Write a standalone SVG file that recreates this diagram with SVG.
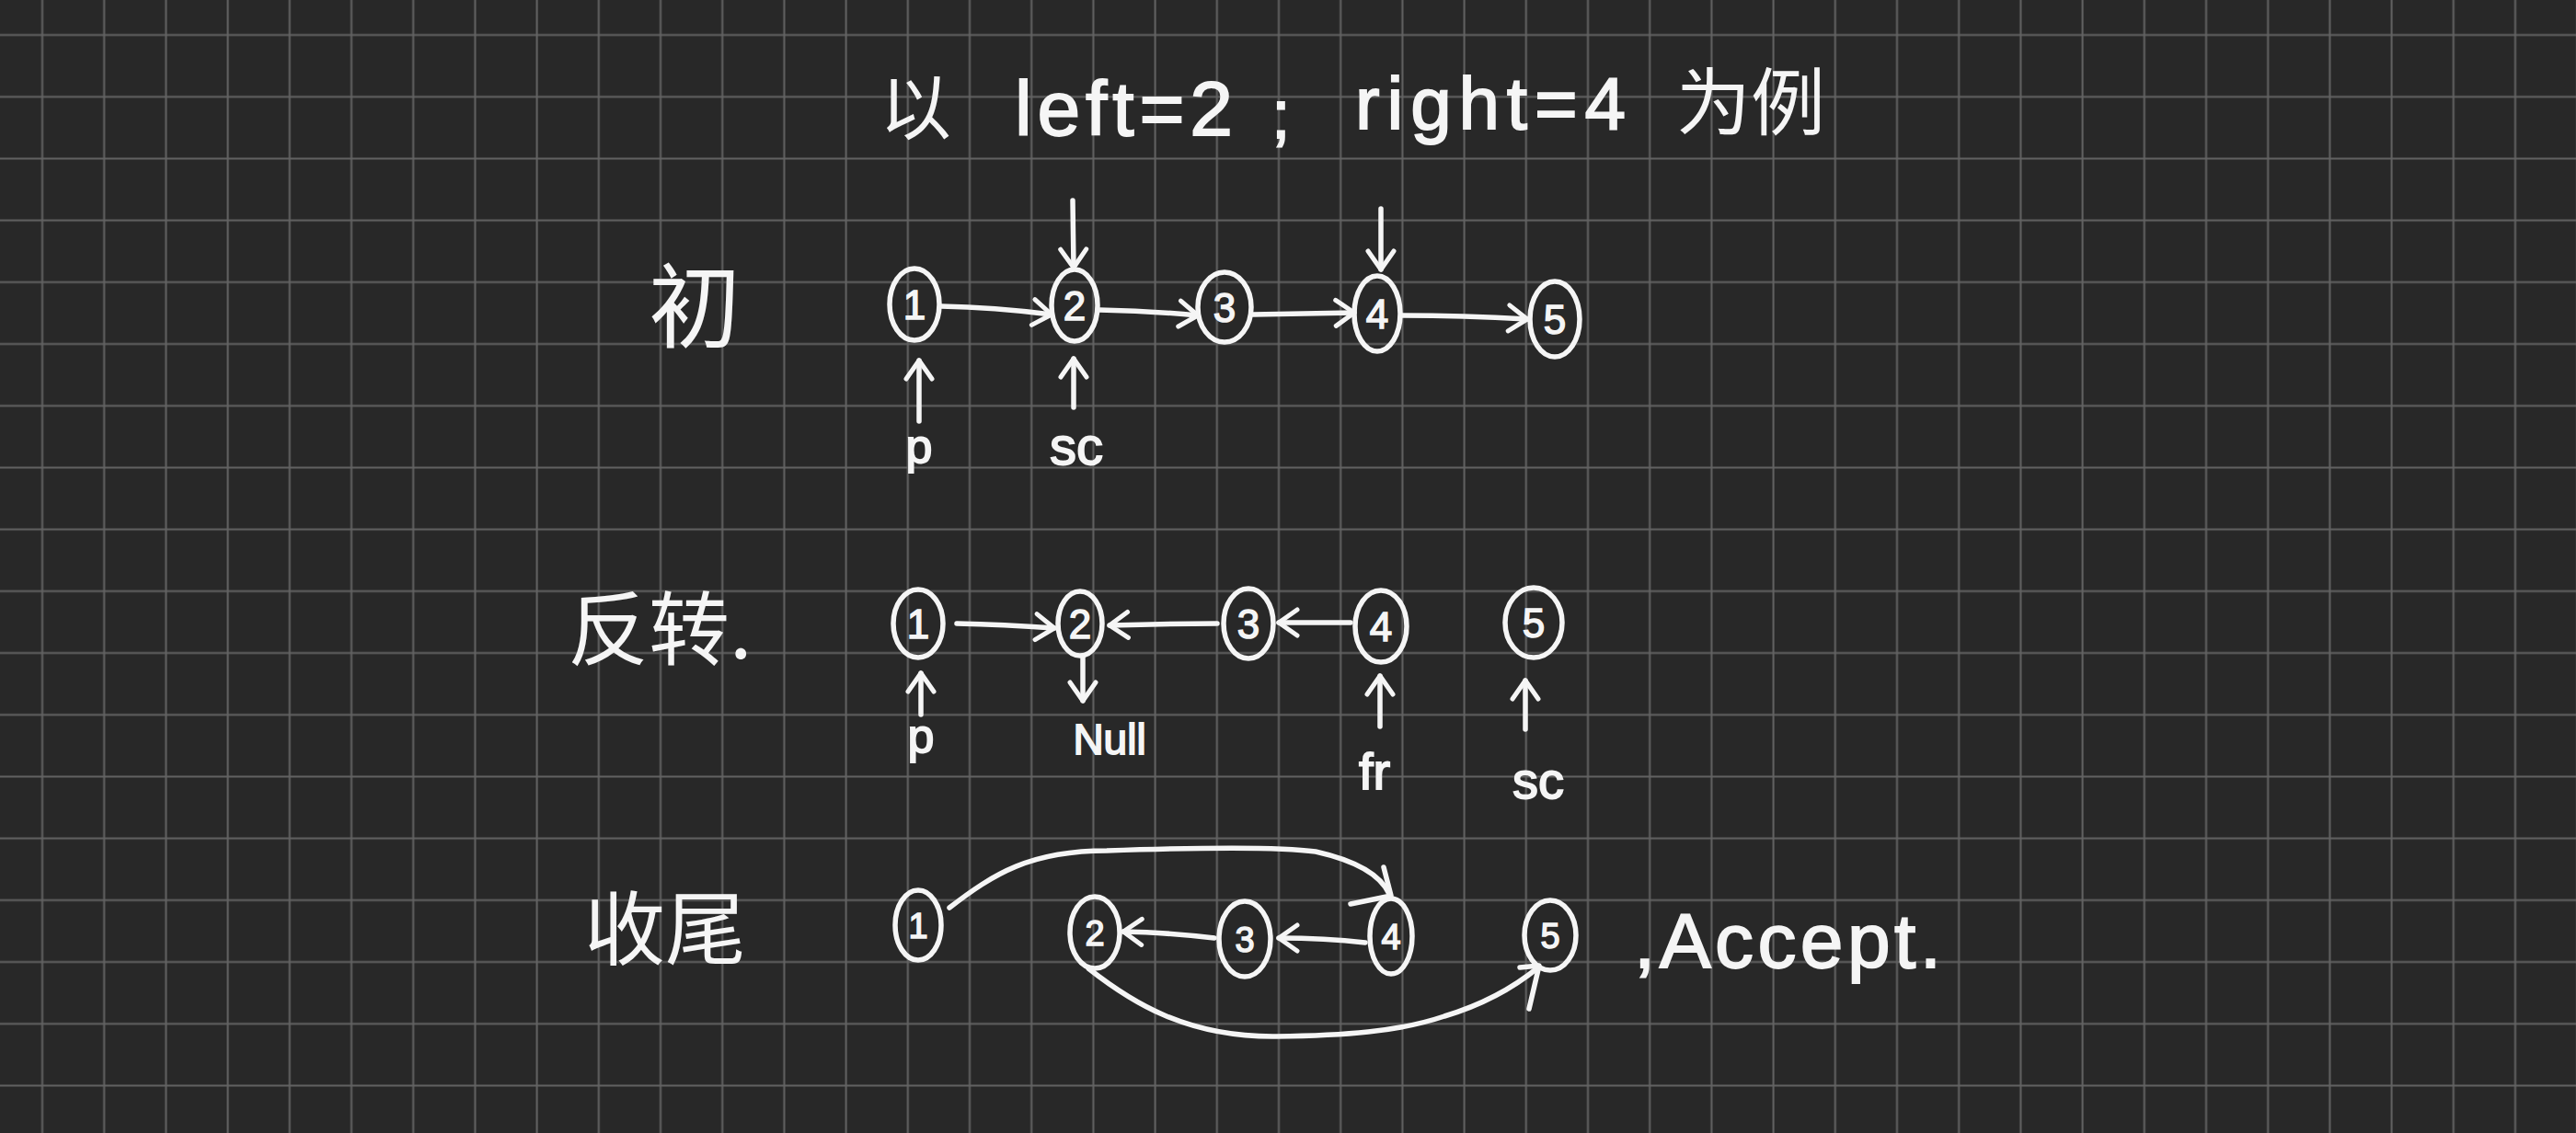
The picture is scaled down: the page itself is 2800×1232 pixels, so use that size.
<svg xmlns="http://www.w3.org/2000/svg" width="2800" height="1232" viewBox="0 0 2800 1232">
<defs>
<pattern id="grid" patternUnits="userSpaceOnUse" x="0" y="0" width="67.2" height="67.2">
<path d="M46,0 V67.2 M0,38 H67.2" stroke="#636363" stroke-width="2" fill="none"/>
</pattern>
<marker id="ah" markerUnits="userSpaceOnUse" viewBox="-28 -20 32 40" refX="0" refY="0" markerWidth="32" markerHeight="40" orient="auto" overflow="visible">
<path d="M-20,-14 L0,0 L-20,14" fill="none" stroke="#f5f5f5" stroke-width="5" stroke-linecap="round" stroke-linejoin="round"/>
</marker>
</defs>
<style>
.n{fill:none;stroke:#f5f5f5;stroke-width:5.5}
.d{font-family:"Liberation Sans",sans-serif;font-size:44px;fill:#f5f5f5;stroke:#f5f5f5;stroke-width:1.5;text-anchor:middle}
.d3{font-family:"Liberation Sans",sans-serif;font-size:38px;fill:#f5f5f5;stroke:#f5f5f5;stroke-width:1.5;text-anchor:middle}
.c{fill:none;stroke:#f5f5f5;stroke-width:5.5;stroke-linecap:round;stroke-linejoin:round}
.a{marker-end:url(#ah)}
.t{font-family:"Liberation Sans",sans-serif;fill:#f5f5f5;stroke:#f5f5f5;stroke-width:1.8}
.cjk{font-family:"Noto Sans CJK SC",sans-serif;fill:#f5f5f5}
</style>
<rect width="2800" height="1232" fill="#282828"/>
<rect width="2800" height="1232" fill="url(#grid)"/>

<g id="title">
<text class="cjk" x="956" y="146" font-size="78">以</text>
<text class="t" x="1103" y="147" font-size="84" textLength="237" lengthAdjust="spacing">left=2</text>
<text class="t" x="1382" y="150" font-size="74">;</text>
<text class="t" x="1473" y="140" font-size="80" textLength="294" lengthAdjust="spacing">right=4</text>
<text class="cjk" x="1822" y="140" font-size="80" textLength="162" lengthAdjust="spacingAndGlyphs">为例</text>
</g>

<g id="label-init"><text class="cjk" x="705" y="370" font-size="100">初</text></g>
<g id="label-reverse"><text class="cjk" x="617" y="716" font-size="88">反转.</text></g>
<g id="label-finish"><text class="cjk" x="635" y="1042" font-size="88">收尾</text></g>

<!-- Row 1 -->
<g id="r1-n1"><ellipse class="n" cx="994" cy="331" rx="27" ry="39"/><text class="d" x="994" y="347">1</text></g>
<g id="r1-n2"><ellipse class="n" cx="1168" cy="332" rx="25" ry="39"/><text class="d" x="1168" y="348">2</text></g>
<g id="r1-n3"><ellipse class="n" cx="1331" cy="334" rx="29" ry="38"/><text class="d" x="1331" y="350">3</text></g>
<g id="r1-n4"><ellipse class="n" cx="1497" cy="341" rx="25" ry="41"/><text class="d" x="1497" y="357">4</text></g>
<g id="r1-n5"><ellipse class="n" cx="1690" cy="347" rx="27" ry="41"/><text class="d" x="1690" y="363">5</text></g>

<!-- Row 2 -->
<g id="r2-n1"><ellipse class="n" cx="998" cy="678" rx="27" ry="37"/><text class="d" x="998" y="694">1</text></g>
<g id="r2-n2"><ellipse class="n" cx="1174" cy="678" rx="24" ry="35"/><text class="d" x="1174" y="694">2</text></g>
<g id="r2-n3"><ellipse class="n" cx="1357" cy="678" rx="27" ry="38"/><text class="d" x="1357" y="694">3</text></g>
<g id="r2-n4"><ellipse class="n" cx="1501" cy="681" rx="28" ry="39"/><text class="d" x="1501" y="697">4</text></g>
<g id="r2-n5"><ellipse class="n" cx="1667" cy="677" rx="31" ry="38"/><text class="d" x="1667" y="693">5</text></g>

<!-- Row 3 -->
<g id="r3-n1"><ellipse class="n" cx="998" cy="1006" rx="25" ry="38"/><text class="d3" x="998" y="1020">1</text></g>
<g id="r3-n2"><ellipse class="n" cx="1190" cy="1014" rx="27" ry="39"/><text class="d3" x="1190" y="1028">2</text></g>
<g id="r3-n3"><ellipse class="n" cx="1353" cy="1021" rx="28" ry="41"/><text class="d3" x="1353" y="1035">3</text></g>
<g id="r3-n4"><ellipse class="n" cx="1512" cy="1018" rx="23" ry="41"/><text class="d3" x="1512" y="1032">4</text></g>
<g id="r3-n5"><ellipse class="n" cx="1685" cy="1017" rx="28" ry="38"/><text class="d3" x="1685" y="1031">5</text></g>

<!-- pointer labels -->
<g id="labels">
<text class="t" x="999" y="503" font-size="52" text-anchor="middle">p</text>
<text class="t" x="1170" y="505" font-size="58" text-anchor="middle">sc</text>
<text class="t" x="1001" y="818" font-size="52" text-anchor="middle">p</text>
<text class="t" x="1206" y="820" font-size="46" text-anchor="middle">Null</text>
<text class="t" x="1494" y="858" font-size="56" text-anchor="middle">fr</text>
<text class="t" x="1672" y="868" font-size="56" text-anchor="middle">sc</text>
<text class="t" x="1776" y="1052" font-size="84" textLength="334" lengthAdjust="spacing">,Accept.</text>
</g>

<g id="connectors">
<!-- row 1 -->
<path class="c a" d="M1023,333 Q1080,334 1143,342"/>
<path class="c a" d="M1195,337 Q1250,338 1302,343"/>
<path class="c a" d="M1362,342 Q1420,341 1472,340"/>
<path class="c a" d="M1524,343 Q1590,343 1660,347"/>
<path class="c a" d="M1166,218 L1167,291"/>
<path class="c a" d="M1501,227 L1501,293"/>
<path class="c a" d="M999,458 L999,392"/>
<path class="c a" d="M1167,443 L1167,390"/>
<!-- row 2 -->
<path class="c a" d="M1040,678 Q1090,679 1146,683"/>
<path class="c a" d="M1323,678 Q1270,678 1206,680"/>
<path class="c a" d="M1468,677 Q1430,677 1390,677"/>
<path class="c a" d="M1177,715 L1177,762"/>
<path class="c a" d="M1001,777 L1001,732"/>
<path class="c a" d="M1500,790 L1500,735"/>
<path class="c a" d="M1658,793 L1658,740"/>
<!-- row 3 -->
<path class="c a" d="M1320,1020 Q1270,1014 1221,1013"/>
<path class="c a" d="M1484,1025 Q1440,1020 1390,1020"/>
<path class="c" d="M1032,987 C1080,950 1120,925 1203,925 C1290,922 1387,920 1430,926 C1470,935 1500,950 1510,972"/>
<path class="c" d="M1504,943 L1512,974 L1468,983"/>
<path class="c" d="M1183,1053 C1230,1090 1290,1128 1387,1127 C1460,1126 1520,1122 1570,1105 C1620,1090 1650,1070 1672,1052"/>
<path class="c" d="M1652,1052 L1673,1050 L1662,1097"/>
</g>
</svg>
